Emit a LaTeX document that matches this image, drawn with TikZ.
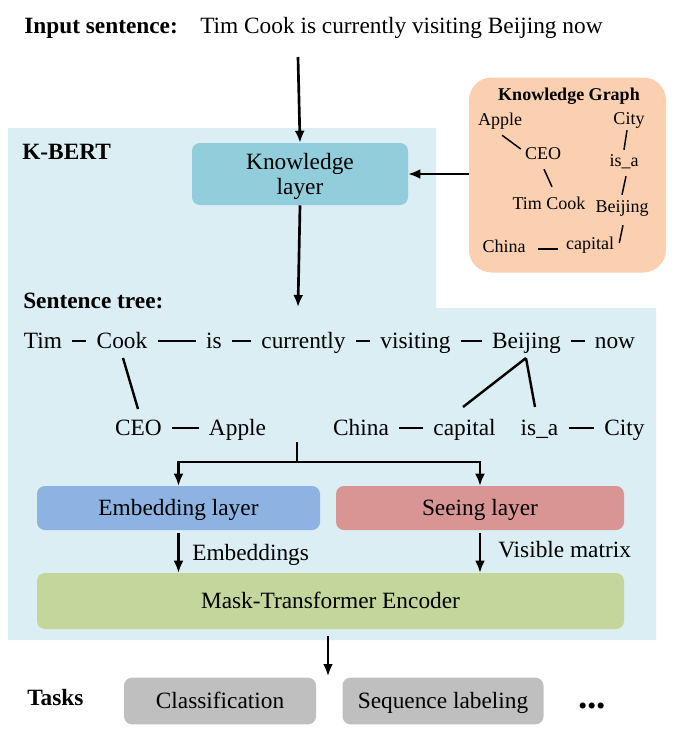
\documentclass[tikz,border=0pt]{standalone}
\usepackage{fontspec}
\setmainfont{Liberation Serif}
\usetikzlibrary{arrows.meta,calc}
\definecolor{bgblue}{HTML}{DAEEF3}
\definecolor{klblue}{HTML}{92CDDC}
\definecolor{kgpeach}{HTML}{FAD0B0}
\definecolor{embblue}{HTML}{8DB3E2}
\definecolor{seered}{HTML}{D99594}
\definecolor{maskgreen}{HTML}{C3D69B}
\definecolor{taskgray}{HTML}{BFBFBF}
\begin{document}
\begin{tikzpicture}[x=0.75pt,y=-0.75pt,
  word/.style={inner sep=0pt, font=\fontsize{17.5}{21}\selectfont, text height=11.6pt, text depth=0pt},
  bword/.style={word, font=\fontsize{17.5}{21}\selectfont\bfseries},
  kgw/.style={inner sep=0pt, font=\fontsize{13.5}{16}\selectfont, text height=8.9pt, text depth=0pt},
  box/.style={rounded corners=6pt, draw=none, font=\fontsize{17.5}{21}\selectfont, inner sep=0pt, text height=11.6pt, text depth=0pt},
  link/.style={line width=1.8pt},
  kglink/.style={line width=1.1pt},
  dashlink/.style={line width=1.9pt, shorten <=7.5pt, shorten >=7.5pt},
  arr/.style={line width=2pt, -{Latex[length=9pt,width=7.5pt]}},
]
\useasboundingbox (0,0) rectangle (677,733);
% background region
\fill[bgblue] (8,128) -- (436,128) -- (436,308) -- (656,308) -- (656,640) -- (8,640) -- cycle;

% header
\node[bword, anchor=west] (inlab) at (24,26) {Input sentence:};
\node[word, anchor=west] (insent) at (200,26) {Tim Cook is currently visiting Beijing now};
\node[bword, anchor=west] (kbert) at (22,152) {K-BERT};
\node[bword, anchor=west] (stlab) at (23,301) {Sentence tree:};

% knowledge layer
\node[box, fill=klblue, minimum width=162pt, minimum height=46.5pt] (KL) at (300,174) {};
\node[inner sep=0pt, align=center, font=\fontsize{17.5}{21}\selectfont] (KLtext) at ($(KL.center)+(0,2.5)$) {Knowledge\\[-2pt]layer};

% knowledge graph
\node[box, fill=kgpeach, rounded corners=17pt, minimum width=147.75pt, minimum height=146.25pt] (KG) at (567.5,175) {};
\node[kgw, font=\fontsize{13.5}{16}\selectfont\bfseries] (kgt) at (569,95) {Knowledge Graph};
\node[kgw] (gApple) at (500,120) {Apple};
\node[kgw] (gCity) at (629,119) {City};
\node[kgw] (gCEO) at (543,154) {CEO};
\node[kgw] (gisa) at (624,161) {is\_a};
\node[kgw] (gTim) at (549,204) {Tim Cook};
\node[kgw] (gBei) at (622,207) {Beijing};
\node[kgw] (gChina) at (504,247) {China};
\node[kgw] (gcap) at (590,244) {capital};
\draw[kglink] ($(gApple.south)+(2,9)$) -- ($(gCEO.west)+(-4,-5)$);
\draw[kglink] ($(gCEO.south)+(1,9)$) -- ($(gTim.north)+(3,-11)$);
\draw[kglink] ($(gCity.south)+(-2,5)$) -- ($(gisa.north)+(0,-5)$);
\draw[kglink] ($(gisa.south)+(2,9)$) -- ($(gBei.north)+(0,-6)$);
\draw[kglink] ($(gBei.south)+(1,12)$) -- ($(gcap.east)+(5,-1)$);
\draw[kglink] ($(gChina.east)+(12,2)$) -- ($(gcap.west)+(-8,5)$);

% arrows top
\coordinate (inbot) at (298,57);
\draw[arr] (inbot) -- (KL.north);
\draw[arr] (KG.west |- KL.east) -- (KL.east);
\coordinate (treetop) at (298,307);
\draw[arr] (KL.south) -- (treetop);

% sentence tree row 1
\node[word] (Tim) at (43,341) {Tim};
\node[word] (Cook) at (122,341) {Cook};
\node[word] (is) at (214,341) {is};
\node[word] (cur) at (303.5,341) {currently};
\node[word] (vis) at (415.5,341) {visiting};
\node[word] (Bei) at (526.5,341) {Beijing};
\node[word] (now) at (615,341) {now};
\foreach \a/\b in {Tim/Cook,Cook/is,is/cur,cur/vis,vis/Bei,Bei/now}
  \draw[dashlink] (\a.east) -- (\b.west);

% row 2
\node[word] (CEO) at (138.5,428) {CEO};
\node[word] (Apple) at (237.5,428) {Apple};
\node[word] (China) at (361,428) {China};
\node[word] (cap) at (464.5,428) {capital};
\node[word] (isa) at (539.5,428) {is\_a};
\node[word] (City) at (624.5,428) {City};
\foreach \a/\b in {CEO/Apple,China/cap,isa/City}
  \draw[dashlink] (\a.east) -- (\b.west);

\draw[link] ($(Cook.south)+(1,9)$) -- ($(CEO.north)+(-0.5,-11)$);
\coordinate (apex) at ($(Bei.south)+(-0.5,9)$);
\draw[link] (apex) -- ($(cap.north)+(-1.5,-13)$);
\draw[link] (apex) -- ($(isa.north)+(-4.5,-13)$);

% layers
\node[box, fill=embblue, minimum width=212.25pt, minimum height=33pt] (Emb) at (178.5,508) {Embedding layer};
\node[box, fill=seered, minimum width=216pt, minimum height=33pt] (See) at (480,508) {Seeing layer};
\node[box, fill=maskgreen, minimum width=440.25pt, minimum height=42pt] (Mask) at (330.5,601) {Mask-Transformer Encoder};

\coordinate (stem) at (297,442);
\coordinate (split) at (297,462);
\draw[link] (stem) -- (split);
\draw[arr] (split) -| (Emb.north);
\draw[arr] (split) -| (See.north);

\draw[arr, shorten <=2pt] (Emb.south) -- (Emb.south |- Mask.north);
\draw[arr, shorten <=2pt] (See.south) -- (See.south |- Mask.north);
\node[word, anchor=west] (embl) at (192,553) {Embeddings};
\node[word, anchor=west] (visl) at (498,550) {Visible matrix};

% tasks
\coordinate (taskarr) at (328,676);
\draw[arr, shorten <=5pt] (Mask.south -| taskarr) -- (taskarr);
\node[bword, anchor=west] (tasks) at (27,698) {Tasks};
\node[box, fill=taskgray, minimum width=144pt, minimum height=35pt] (Cls) at (220,701) {Classification};
\node[box, fill=taskgray, minimum width=150.75pt, minimum height=35pt] (Seq) at (443,701) {Sequence labeling};
\node[inner sep=0pt, anchor=base, font=\fontsize{28}{30}\selectfont\bfseries] (dots) at (592,708) {...};
\end{tikzpicture}
\end{document}
